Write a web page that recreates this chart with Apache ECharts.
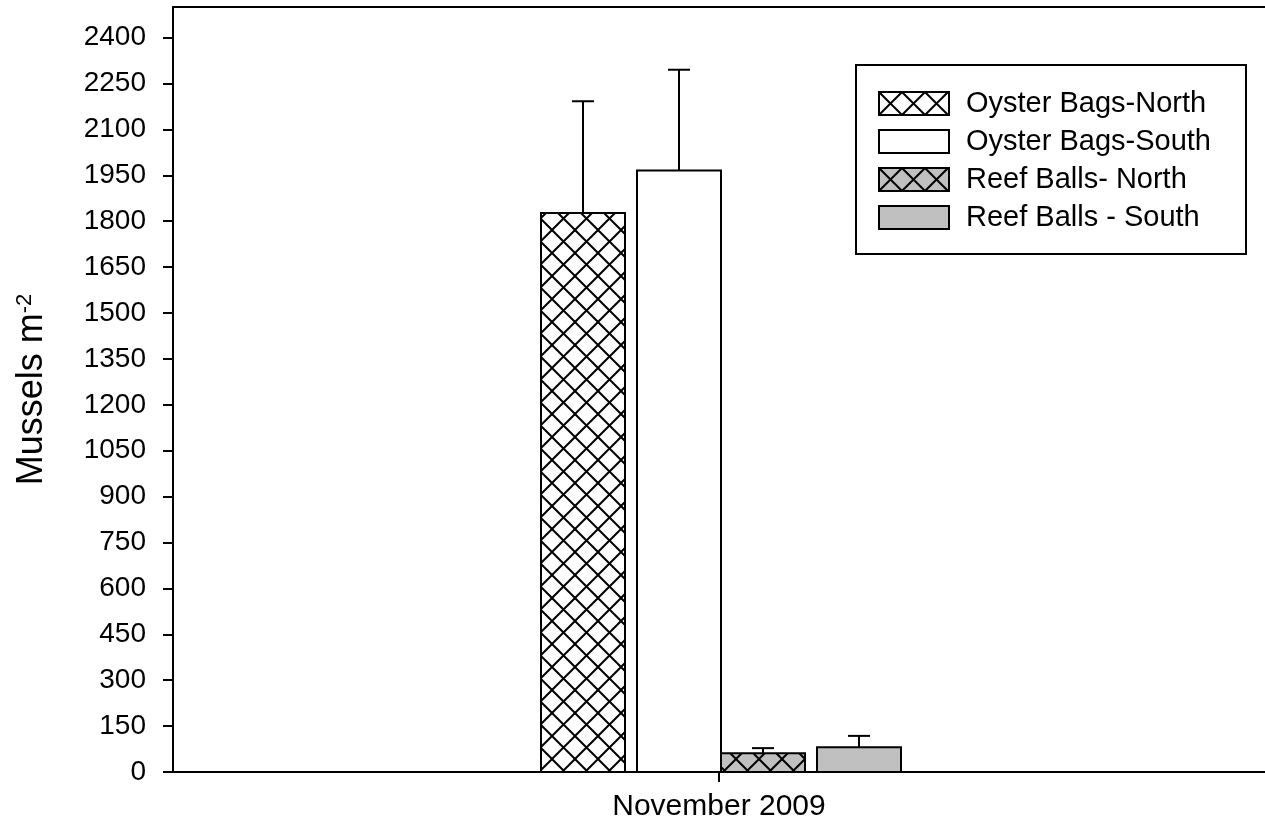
<!DOCTYPE html>
<html>
<head>
<meta charset="utf-8">
<script src="https://cdn.jsdelivr.net/npm/echarts@6/dist/echarts.min.js"></script>
<style>html,body{margin:0;padding:0;background:#fff}#c{width:1265px;height:835px}</style>
</head>
<body>
<div id="c"></div>
<script>
// ---- data ----
const categories = ['November 2009'];
const seriesNames = ['Oyster Bags-North', 'Oyster Bags-South', 'Reef Balls- North', 'Reef Balls - South'];
const means = [1827, 1966, 61, 81];
const errors = [365, 329, 17, 37];
const yTicks = [0, 150, 300, 450, 600, 750, 900, 1050, 1200, 1350, 1500, 1650, 1800, 1950, 2100, 2250, 2400];
const yMax = 2500;

// ---- styling ----
function hatch(bg) {
  const s = 23;
  const c = document.createElement('canvas');
  c.width = s; c.height = s;
  const g = c.getContext('2d');
  g.fillStyle = bg; g.fillRect(0, 0, s, s);
  g.strokeStyle = '#000'; g.lineWidth = 2;
  for (let k = -1; k <= 1; k++) {
    g.beginPath(); g.moveTo(k * s, 0); g.lineTo(k * s + s, s); g.stroke();
    g.beginPath(); g.moveTo(k * s, s); g.lineTo(k * s + s, 0); g.stroke();
  }
  return { image: c, repeat: 'repeat' };
}
const fills = [hatch('#ffffff'), '#ffffff', hatch('#c0c0c0'), '#c0c0c0'];
const band = 1092;
const barLeft = [-178 / band, -82 / band, 2 / band, 98 / band];
const barW = 84 / band;
const capW = 22;
const FONT = 'Liberation Sans, Arial, sans-serif';

const chart = echarts.init(document.getElementById('c'), null, { renderer: 'canvas' });

const series = seriesNames.map((name, i) => ({
  name: name,
  type: 'custom',
  xAxisIndex: 0,
  yAxisIndex: 0,
  itemStyle: { color: fills[i], borderColor: '#000', borderWidth: 2 },
  data: [[0, means[i], errors[i]]],
  encode: { x: 0, y: 1 },
  renderItem: function (params, api) {
    const cat = api.value(0), v = api.value(1), e = api.value(2);
    const base = api.coord([cat, 0]);
    const top = api.coord([cat, v]);
    const et = api.coord([cat, v + e]);
    const bw = api.size([1, 0])[0];
    const x0 = base[0] + barLeft[i] * bw;
    const w = barW * bw;
    const cx = x0 + w / 2;
    return {
      type: 'group',
      children: [
        { type: 'line', shape: { x1: cx, y1: top[1], x2: cx, y2: et[1] }, style: { stroke: '#000', lineWidth: 2 } },
        { type: 'line', shape: { x1: cx - capW / 2, y1: et[1], x2: cx + capW / 2, y2: et[1] }, style: { stroke: '#000', lineWidth: 2 } },
        { type: 'rect', shape: { x: x0, y: top[1], width: w, height: base[1] - top[1] }, style: { fill: fills[i], stroke: '#000', lineWidth: 2 } }
      ]
    };
  }
}));

chart.setOption({
  animation: false,
  backgroundColor: '#fff',
  textStyle: { fontFamily: FONT, color: '#000' },
  grid: { left: 173, right: 0, top: 7, bottom: 63, containLabel: false },
  legend: {
    orient: 'vertical',
    left: 856, top: 65,
    padding: [24, 35, 22, 22],
    borderColor: '#000', borderWidth: 2,
    itemWidth: 70, itemHeight: 23, itemGap: 9,
    icon: 'rect',
    textStyle: { fontSize: 29, fontFamily: FONT, color: '#000', padding: [0, 0, 0, 12] },
    data: seriesNames.map((n, i) => ({ name: n, icon: 'rect', itemStyle: { color: fills[i], borderColor: '#000', borderWidth: 2 } }))
  },
  xAxis: [{
    type: 'category',
    data: categories,
    position: 'bottom',
    axisLine: { show: true, lineStyle: { color: '#000', width: 2 } },
    axisTick: { show: true, alignWithLabel: true, length: 10, lineStyle: { color: '#000', width: 2 } },
    axisLabel: { fontSize: 30, color: '#000', fontFamily: FONT, margin: 20 },
    splitLine: { show: false }
  }, {
    type: 'category',
    data: categories,
    position: 'top',
    axisLine: { show: true, onZero: false, lineStyle: { color: '#000', width: 2 } },
    axisTick: { show: false },
    axisLabel: { show: false },
    splitLine: { show: false }
  }],
  yAxis: {
    type: 'value',
    min: 0, max: yMax, interval: 150,
    name: '{a|Mussels m}{s|-2}',
    nameLocation: 'middle',
    nameRotate: 90,
    nameGap: 123,
    nameTextStyle: {
      fontSize: 36, fontFamily: FONT, color: '#000',
      rich: {
        a: { fontSize: 36, fontFamily: FONT, color: '#000' },
        s: { fontSize: 22, fontFamily: FONT, color: '#000', verticalAlign: 'top' }
      }
    },
    axisLine: { show: true, lineStyle: { color: '#000', width: 2 } },
    axisTick: { show: true, length: 10, customValues: yTicks, lineStyle: { color: '#000', width: 2 } },
    axisLabel: { fontSize: 28, color: '#000', fontFamily: FONT, margin: 27, customValues: yTicks, formatter: function (v) { return String(v); } },
    splitLine: { show: false }
  },
  series: series
});
</script>
</body>
</html>
